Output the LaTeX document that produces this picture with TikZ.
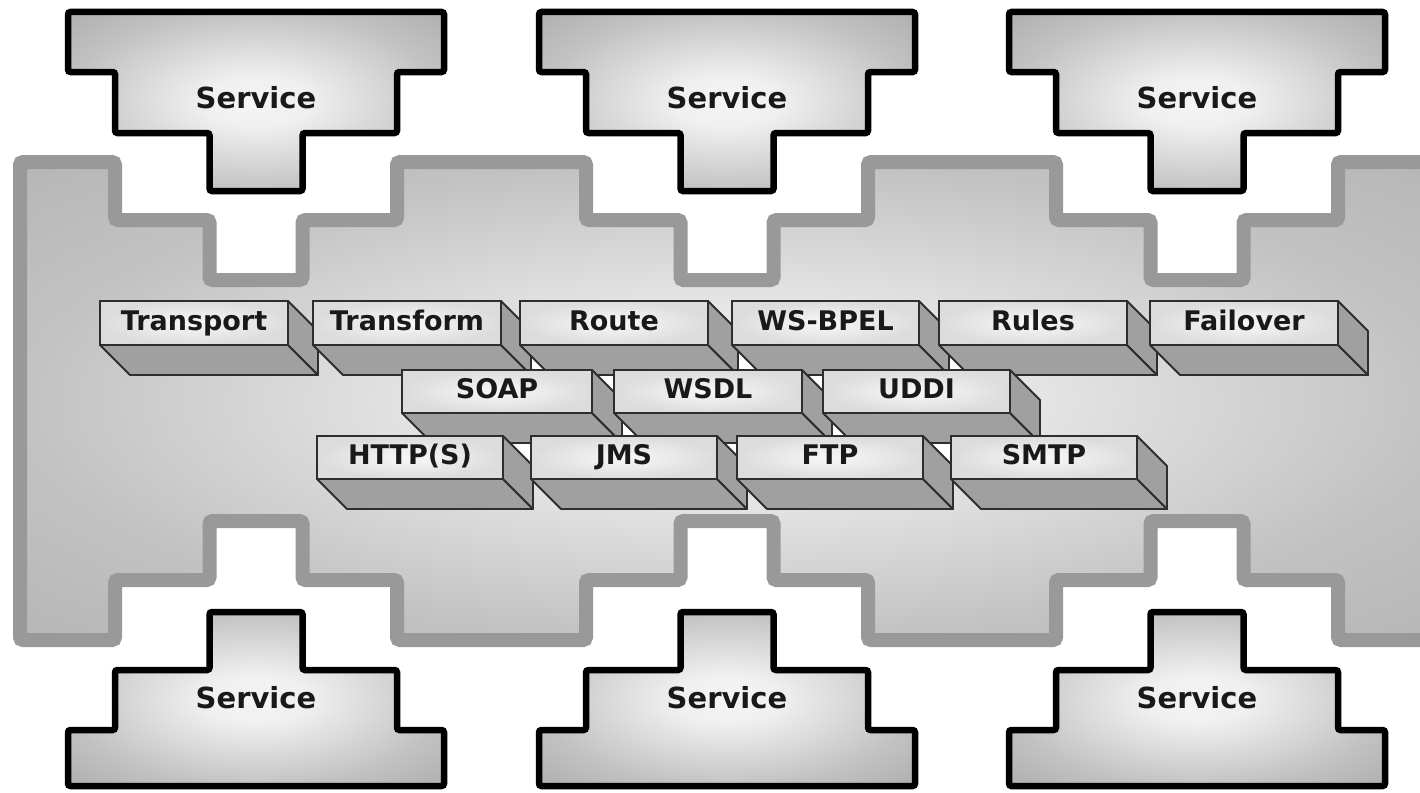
\documentclass[tikz,border=0pt]{standalone}
\usepackage{fontspec}
\setmainfont{DejaVu Sans}
\definecolor{busline}{HTML}{999999}
\definecolor{facein}{HTML}{F8F8F8}
\definecolor{faceout}{HTML}{DCDCDC}
\definecolor{facedark}{HTML}{A0A0A0}
\definecolor{edge}{HTML}{2E2E2E}
\pgfdeclareradialshading{softsvc}{\pgfpoint{0bp}{0bp}}{%
  color(0bp)=(black!4);
  color(7bp)=(black!6);
  color(25bp)=(black!24);
  color(36bp)=(black!32);
  color(50bp)=(black!32)}
\pgfdeclareradialshading{softbus}{\pgfpoint{0bp}{0bp}}{%
  color(0bp)=(black!6);
  color(8bp)=(black!8);
  color(25bp)=(black!24);
  color(36bp)=(black!29);
  color(50bp)=(black!29)}
\newcommand\threedbox[6]{%
  \draw[boxdark] (#2,{#3+#5}) -- ({#2+#4},{#3+#5}) -- ({#2+#4+30},{#3+#5+30}) -- ({#2+30},{#3+#5+30}) -- cycle;
  \draw[boxdark] ({#2+#4},#3) -- ({#2+#4+30},{#3+30}) -- ({#2+#4+30},{#3+#5+30}) -- ({#2+#4},{#3+#5}) -- cycle;
  \node[boxfront, minimum width=#4pt, minimum height=#5pt] (#1) at ({#2+#4/2},{#3+#5/2}) {#6};
}
\begin{document}
\begin{tikzpicture}[x=1pt,y=-1pt,
  svc/.style={draw=black, line width=6.5pt, rounded corners=2.5pt, line join=miter, shade, shading=softsvc},
  svctext/.style={font=\fontsize{29}{32}\selectfont\bfseries, text=black!90, inner sep=0pt, text height=21pt, text depth=3pt},
  bus/.style={draw=busline, line width=14pt, rounded corners=3pt, line join=miter, shade, shading=softbus},
  pocket/.style={fill=white, draw=white, line width=2pt},
  boxdark/.style={draw=edge, line width=1.8pt, line join=round, fill=facedark},
  boxfront/.style={draw=edge, line width=1.8pt, inner color=facein, outer color=faceout, inner sep=0pt,
    font=\fontsize{27}{30}\selectfont\bfseries, text=black!90, text height=20pt, text depth=6pt}]
\useasboundingbox (0,0) rectangle (1420,792);
\fill[white] (0,0) rectangle (1420,792);
\begin{scope}
\clip (0,0) rectangle (1420,792);
% bus
\path[bus] (20,162) -- (115,162) -- (115,220) -- (209.5,220) -- (209.5,280) -- (302.5,280) -- (302.5,220) -- (397,220) -- (397,162)
  -- (586,162) -- (586,220) -- (680.5,220) -- (680.5,280) -- (773.5,280) -- (773.5,220) -- (868,220) -- (868,162)
  -- (1056,162) -- (1056,220) -- (1150.5,220) -- (1150.5,280) -- (1243.5,280) -- (1243.5,220) -- (1338,220) -- (1338,162)
  -- (1445,162) -- (1445,640)
  -- (1338,640) -- (1338,580) -- (1243.5,580) -- (1243.5,521) -- (1150.5,521) -- (1150.5,580) -- (1056,580) -- (1056,640)
  -- (868,640) -- (868,580) -- (773.5,580) -- (773.5,521) -- (680.5,521) -- (680.5,580) -- (586,580) -- (586,640)
  -- (397,640) -- (397,580) -- (302.5,580) -- (302.5,521) -- (209.5,521) -- (209.5,580) -- (115,580) -- (115,640)
  -- (20,640) -- cycle;
% services
\foreach \c in {256,727,1197}{
  \path[svc] ({\c-188},12) -- ({\c+188},12) -- ({\c+188},72) -- ({\c+141},72) -- ({\c+141},133) -- ({\c+46.5},133)
    -- ({\c+46.5},191) -- ({\c-46.5},191) -- ({\c-46.5},133) -- ({\c-141},133) -- ({\c-141},72) -- ({\c-188},72) -- cycle;
  \path[svc] ({\c-188},786) -- ({\c+188},786) -- ({\c+188},730) -- ({\c+141},730) -- ({\c+141},670) -- ({\c+46.5},670)
    -- ({\c+46.5},612) -- ({\c-46.5},612) -- ({\c-46.5},670) -- ({\c-141},670) -- ({\c-141},730) -- ({\c-188},730) -- cycle;
}
\end{scope}
\node[svctext] (st1) at (256,99) {Service};
\node[svctext] (st2) at (727,99) {Service};
\node[svctext] (st3) at (1197,99) {Service};
\node[svctext] (sb1) at (256,699) {Service};
\node[svctext] (sb2) at (727,699) {Service};
\node[svctext] (sb3) at (1197,699) {Service};
% small white pockets enclosed between the boxes
\path[pocket] (531,356) -- (531,370) -- (545,370) -- cycle;
\path[pocket] (738,351) -- (738,370) -- (757,370) -- cycle;
\path[pocket] (949,355) -- (949,370) -- (964,370) -- cycle;
\path[pocket] (597,375) -- (614,375) -- (614,392) -- cycle;
\path[pocket] (807,375) -- (823,375) -- (823,391) -- cycle;
\path[pocket] (622,421) -- (622,436) -- (637,436) -- cycle;
\path[pocket] (832,422) -- (832,436) -- (846,436) -- cycle;
\path[pocket] (510,443) -- (531,443) -- (531,464) -- cycle;
\path[pocket] (724,443) -- (737,443) -- (737,456) -- cycle;
\path[pocket] (930,443) -- (951,443) -- (951,464) -- cycle;
% row 1
\threedbox{transport}{100}{301}{188}{44}{Transport}
\threedbox{transform}{313}{301}{188}{44}{Transform}
\threedbox{route}{520}{301}{188}{44}{Route}
\threedbox{wsbpel}{732}{301}{187}{44}{WS-BPEL}
\threedbox{rules}{939}{301}{188}{44}{Rules}
\threedbox{failover}{1150}{301}{188}{44}{Failover}
% row 2
\threedbox{soap}{402}{370}{190}{43}{SOAP}
\threedbox{wsdl}{614}{370}{188}{43}{WSDL}
\threedbox{uddi}{823}{370}{187}{43}{UDDI}
% row 3
\threedbox{http}{317}{436}{186}{43}{HTTP(S)}
\threedbox{jms}{531}{436}{186}{43}{JMS}
\threedbox{ftp}{737}{436}{186}{43}{FTP}
\threedbox{smtp}{951}{436}{186}{43}{SMTP}
\end{tikzpicture}
\end{document}
